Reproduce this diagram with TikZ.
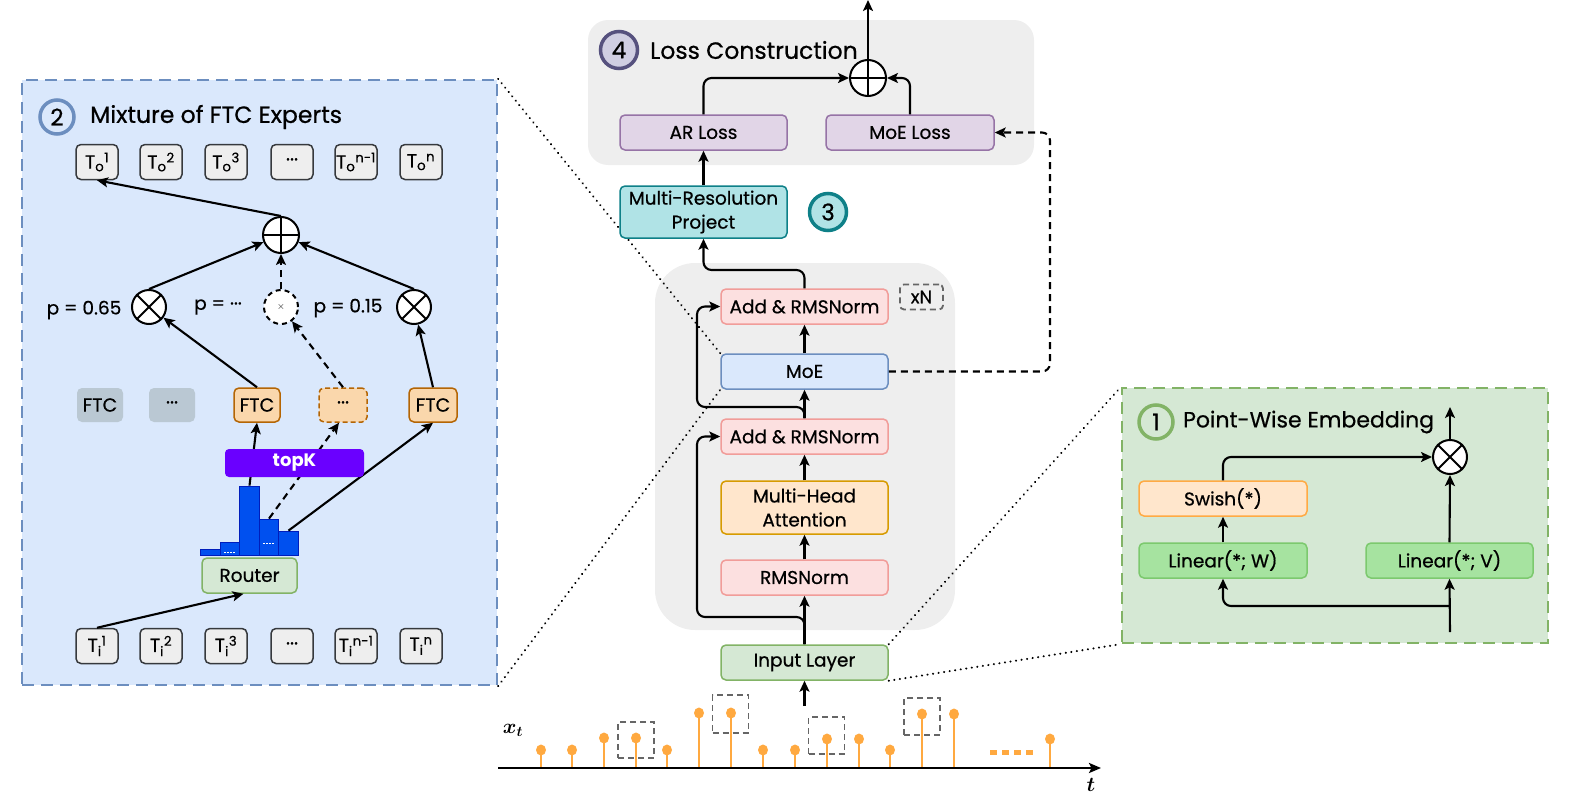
\documentclass[tikz,border=0pt]{standalone}
\usepackage{amsmath}
\usepackage{fontspec}
\setmainfont{Poppins}[UprightFeatures={FakeBold=0.6}]
\usetikzlibrary{arrows.meta,calc}
\pgfdeclarelayer{bg}\pgfdeclarelayer{mid}\pgfsetlayers{bg,mid,main}
\definecolor{lpf}{HTML}{DAE8FC}\definecolor{lpd}{HTML}{6C8EBF}
\definecolor{grayf}{HTML}{EEEEEE}\definecolor{tokd}{HTML}{36393D}
\definecolor{ftcg}{HTML}{BAC8D3}\definecolor{ftcf}{HTML}{FAD7AC}\definecolor{ftcd}{HTML}{B46504}
\definecolor{topk}{HTML}{6A00FF}\definecolor{barf}{HTML}{0050EF}\definecolor{bard}{HTML}{001DBC}
\definecolor{grf}{HTML}{D5E8D4}\definecolor{grd}{HTML}{82B366}
\definecolor{lossf}{HTML}{E1D5E7}\definecolor{lossd}{HTML}{9673A6}
\definecolor{c4f}{HTML}{D0CEE2}\definecolor{c4d}{HTML}{56517E}
\definecolor{mrpf}{HTML}{B0E3E6}\definecolor{mrpd}{HTML}{0E8088}
\definecolor{pkf}{HTML}{FCE0E0}\definecolor{pkd}{HTML}{F19C99}
\definecolor{mhaf}{HTML}{FFE6CC}\definecolor{mhad}{HTML}{D79B00}
\definecolor{swd}{HTML}{FFAA44}
\definecolor{linf}{HTML}{A6E3A0}\definecolor{lind}{HTML}{7CC96E}
\definecolor{stemc}{HTML}{FFA940}\definecolor{dbox}{HTML}{666666}
\newcommand\mytok[2]{T\textsubscript{#1}\textsuperscript{#2}}
\newcommand\mydots{\textperiodcentered\textperiodcentered\textperiodcentered}
\begin{document}
\begin{tikzpicture}[x=1pt,y=-1pt,
  arr/.style={line width=2.1pt,-{Stealth[length=11pt,width=10pt,inset=2.5pt]}},
  bx/.style={draw, rounded corners=5pt, line width=1.5pt, inner sep=0pt, align=center,
    font=\fontsize{18.5}{24}\selectfont, minimum height=35pt, minimum width=167pt},
  tok/.style={draw=tokd, fill=grayf, rounded corners=5pt, line width=1.5pt, minimum width=42pt,
    minimum height=35pt, inner sep=0pt, font=\fontsize{19}{20}\selectfont},
  ftc/.style={rounded corners=5pt, line width=1.5pt, minimum width=46pt, minimum height=34pt,
    inner sep=0pt, font=\fontsize{19}{20}\selectfont},
  opc/.style={circle, draw, fill=white, line width=2pt, minimum size=34pt, inner sep=0pt},
  numc/.style={circle, line width=3.5pt, minimum size=34pt, inner sep=0pt, font=\fontsize{23}{26}\selectfont},
  ttl/.style={anchor=west, inner sep=0pt, font=\fontsize{23.5}{26}\selectfont},
  plab/.style={inner sep=0pt, font=\fontsize{18.5}{20}\selectfont},
  bar/.style={draw=bard, fill=barf, line width=1.4pt, anchor=south, minimum width=19.5pt, inner sep=0pt},
  dotl/.style={line width=2.2pt, dash pattern=on 0.1pt off 5.5pt, line cap=round},
  dsh/.style={dash pattern=on 7pt off 5pt},
  stem/.style={draw=stemc, line width=1.6pt},
  dbx/.style={draw=dbox, line width=1.8pt, dash pattern=on 6pt off 4pt, minimum width=36pt, minimum height=36pt, inner sep=0pt}
]
\useasboundingbox (0,0) rectangle (1574,795);

% ---------- backgrounds ----------
\begin{pgfonlayer}{bg}
\node[draw=lpd, fill=lpf, dash pattern=on 12pt off 7pt, line width=2.2pt, minimum width=475pt,
  minimum height=605pt, inner sep=0pt] (lp) at (259.5,382.5) {};
\node[draw=grd, fill=grf, dash pattern=on 12pt off 7pt, line width=2.2pt, minimum width=426pt,
  minimum height=255pt, inner sep=0pt] (rp) at (1335,515.5) {};
\node[fill=grayf, rounded corners=20pt, minimum width=446pt, minimum height=145pt, inner sep=0pt] (lossbg) at (811,92.5) {};
\node[fill=grayf, rounded corners=40pt, minimum width=300pt, minimum height=367pt, inner sep=0pt] (tbg) at (805,446.5) {};
\end{pgfonlayer}

% ---------- left panel ----------
\node[numc, draw=lpd, fill=lpf] (c2) at (57,117) {2};
\node[ttl] (t2) at (90,117) {Mixture of FTC Experts};

\node[tok] (to1) at (97,162) {\mytok{o}{1}};
\node[tok] (to2) at (161,162) {\mytok{o}{2}};
\node[tok] (to3) at (226,162) {\mytok{o}{3}};
\node[tok] (to4) at (292,162) {\mydots};
\node[tok] (to5) at (356,162) {\mytok{o}{n-1}};
\node[tok] (to6) at (421,162) {\mytok{o}{n}};

\node[opc, minimum size=36pt] (sum1) at (281,235) {};
\draw[line width=2pt] (sum1.north) -- (sum1.south) (sum1.west) -- (sum1.east);
\node[opc] (mul1) at (149,307) {};
\draw[line width=2pt] (mul1.north west) -- (mul1.south east) (mul1.north east) -- (mul1.south west);
\node[opc, dash pattern=on 5pt off 4pt, font=\fontsize{10}{10}\selectfont] (dc) at (281,307) {$\times$};
\node[opc] (mul2) at (414,307) {};
\draw[line width=2pt] (mul2.north west) -- (mul2.south east) (mul2.north east) -- (mul2.south west);
\node[plab] (p1) at (84,310) {p = 0.65};
\node[plab] (p2) at (218,307) {p = \mydots};
\node[plab] (p3) at (348,308) {p = 0.15};

\node[ftc, fill=ftcg] (g1) at (100,405) {FTC};
\node[ftc, fill=ftcg] (g2) at (172,405) {\mydots};
\node[ftc, fill=ftcf, draw=ftcd] (f1) at (257,405) {FTC};
\node[ftc, fill=ftcf, draw=ftcd, dash pattern=on 5pt off 3pt, minimum width=48pt] (f2) at (343,405) {\mydots};
\node[ftc, fill=ftcf, draw=ftcd, minimum width=48pt] (f3) at (433,405) {FTC};

\node[bar, minimum height=6pt] (b1) at (210.5,556) {};
\node[bar, minimum height=13pt] (b2) at (230,556) {};
\node[bar, minimum height=69pt] (b3) at (249.5,556) {};
\node[bar, minimum height=36pt] (b4) at (269,556) {};
\node[bar, minimum height=24pt] (b5) at (288.5,556) {};
\draw[white, line width=0.8pt, dash pattern=on 1.5pt off 1.5pt] ($(b2.south)+(-6,-4)$) -- ($(b2.south)+(6,-4)$);
\draw[white, line width=0.8pt, dash pattern=on 1.5pt off 1.5pt] ($(b4.south)+(-6,-13)$) -- ($(b4.south)+(6,-13)$);

\node[bx, fill=grf, draw=grd, minimum width=95pt] (router) at (249.5,575.5) {Router};

\node[tok] (ti1) at (97,646) {\mytok{i}{1}};
\node[tok] (ti2) at (161,646) {\mytok{i}{2}};
\node[tok] (ti3) at (226,646) {\mytok{i}{3}};
\node[tok] (ti4) at (292,646) {\mydots};
\node[tok] (ti5) at (356,646) {\mytok{i}{n-1}};
\node[tok] (ti6) at (421,646) {\mytok{i}{n}};

\draw[arr] (ti1.north) -- ($(router.south)+(-6,0)$);
\draw[arr] (b3.north) -- (f1.south);
\draw[arr, dsh] (b4.north) -- ($(f2.south)+(-4,0)$);
\draw[arr] (b5.north) -- (f3.south);
\node[fill=topk, text=white, rounded corners=4pt, minimum width=139pt, minimum height=28pt, inner sep=0pt,
  font=\bfseries\fontsize{18}{20}\selectfont] (topk) at (294.5,463) {topK};
\draw[arr] (f1.north) -- (mul1);
\draw[arr, dsh] (f2.north) -- (dc);
\draw[arr] (f3.north) -- (mul2);
\draw[arr] (mul1.north) -- (sum1);
\draw[arr, dsh] (dc.north) -- (sum1.south);
\draw[arr] (mul2.north) -- (sum1);
\draw[arr] (sum1.north) -- (to1.south);

% ---------- center ----------
\node[numc, draw=c4d, fill=c4f, minimum size=37pt] (c4) at (619,50) {4};
\node[ttl] (t4) at (650,50) {Loss Construction};
\node[bx, fill=lossf, draw=lossd] (arl) at (703.5,132.5) {AR Loss};
\node[bx, fill=lossf, draw=lossd, minimum width=168pt] (moel) at (910,132.5) {MoE Loss};
\node[opc, minimum size=36pt] (sum2) at (868,78) {};
\draw[line width=2pt] (sum2.north) -- (sum2.south) (sum2.west) -- (sum2.east);
\coordinate (out) at (868,0);

\node[bx, fill=mrpf, draw=mrpd, minimum height=52pt] (mrp) at (703.5,212) {Multi-Resolution\\Project};
\node[numc, draw=mrpd, fill=mrpf, minimum size=37pt] (c3) at (828,212) {3};

\node[bx, fill=pkf, draw=pkd] (an1) at (804.5,306.5) {Add \& RMSNorm};
\node[draw=dbox, line width=1.8pt, dash pattern=on 6pt off 4pt, rounded corners=4pt, minimum width=43pt,
  minimum height=25pt, inner sep=0pt, font=\fontsize{18}{20}\selectfont] (xn) at (921.5,297) {xN};
\node[bx, fill=lpf, draw=lpd] (moe) at (804.5,371.5) {MoE};
\node[bx, fill=pkf, draw=pkd] (an2) at (804.5,436.5) {Add \& RMSNorm};
\node[bx, fill=mhaf, draw=mhad, minimum height=53pt] (mha) at (804.5,507.5) {Multi-Head\\Attention};
\node[bx, fill=pkf, draw=pkd] (rms) at (804.5,577.5) {RMSNorm};
\node[bx, fill=grf, draw=grd] (inl) at (804.5,662.5) {Input Layer};
\coordinate (tsin) at (804.5,706);

\draw[arr] (tsin) -- (inl.south);
\draw[arr] (inl.north) -- (rms.south);
\coordinate (r1) at (697,617);
\draw[arr, rounded corners=8pt] (inl.north) |- (r1) |- (an2.west);
\draw[arr] (rms.north) -- (mha.south);
\draw[arr] (mha.north) -- (an2.south);
\draw[arr] (an2.north) -- (moe.south);
\coordinate (r2) at (697,407);
\draw[arr, rounded corners=8pt] (an2.north) |- (r2) |- (an1.west);
\draw[arr] (moe.north) -- (an1.south);
\coordinate (r3) at (703.5,270);
\draw[arr, rounded corners=8pt] (an1.north) |- (r3) -- (mrp.south);
\draw[arr] (mrp.north) -- (arl.south);
\draw[arr, rounded corners=8pt] (arl.north) |- (sum2.west);
\draw[arr, rounded corners=8pt] (moel.north) |- (sum2.east);
\draw[arr] (sum2.north) -- (out);
\coordinate (dk) at (1050,132.5);
\draw[arr, dsh, rounded corners=8pt] (moe.east) -| (dk) -- (moel.east);

% ---------- right panel ----------
\node[numc, draw=grd, fill=grf] (c1) at (1156,422) {1};
\node[ttl, font=\fontsize{22}{26}\selectfont] (t1) at (1183,422) {Point-Wise Embedding};
\node[opc] (mul3) at (1450,457) {};
\draw[line width=2pt] (mul3.north west) -- (mul3.south east) (mul3.north east) -- (mul3.south west);
\node[bx, fill=mhaf, draw=swd, minimum width=168pt] (sw) at (1223,498.5) {Swish(*)};
\node[bx, fill=linf, draw=lind, minimum width=168pt] (lw) at (1223,560.5) {Linear(*; W)};
\node[bx, fill=linf, draw=lind] (lv) at (1449.5,560.5) {Linear(*; V)};
\coordinate (rin) at (1450,632);
\coordinate (rj) at (1450,606);
\coordinate (rout) at (1450,407);
\draw[arr] (rin) -- (lv.south);
\draw[arr, rounded corners=8pt] (rj) -| (lw.south);
\draw[arr] (lw.north) -- (sw.south);
\draw[arr, rounded corners=8pt] (sw.north) |- (mul3.west);
\draw[arr] (lv.north) -- (mul3.south);
\draw[arr] (mul3.north) -- (rout);

% ---------- dotted zoom lines ----------
\begin{pgfonlayer}{mid}
\draw[dotl] (lp.north east) -- (moe.north west);
\draw[dotl] (lp.south east) -- (moe.south west);
\draw[dotl] (inl.north east) -- (rp.north west);
\draw[dotl] (inl.south east) -- (rp.south west);
\end{pgfonlayer}

% ---------- time series ----------
\coordinate (ax0) at (498,768);
\coordinate (ax1) at (1101,768);
\foreach \x/\h in {541/750,572/750,604/738,636/738,667/750,699/713,731/713,763/750,795/750,827/739,859/739,890/750,922/714,954/714,1050/739}{
  \draw[stem] (\x,768) -- (\x,\h);
  \fill[stemc] (\x,\h) ellipse (5pt and 5.5pt);
}
\foreach \x in {990,1002,1014,1026}{ \fill[stemc] (\x,749.5) rectangle ++(7,5); }
\node[dbx] (db1) at (636,740) {};
\node[dbx, minimum height=38pt] (db2) at (730.5,714) {};
\node[dbx, minimum height=37pt] (db3) at (826.5,735.5) {};
\node[dbx, minimum height=37pt] (db4) at (922,716.5) {};
\draw[line width=2.4pt, -{Stealth[length=12pt,width=10pt,inset=2.5pt]}] (ax0) -- (ax1);
\node[font=\fontsize{20}{22}\selectfont] (xt) at (513,730) {$\boldsymbol{x_t}$};
\node[font=\fontsize{20}{22}\selectfont] (tl) at (1091,785) {$\boldsymbol{t}$};
\end{tikzpicture}
\end{document}
